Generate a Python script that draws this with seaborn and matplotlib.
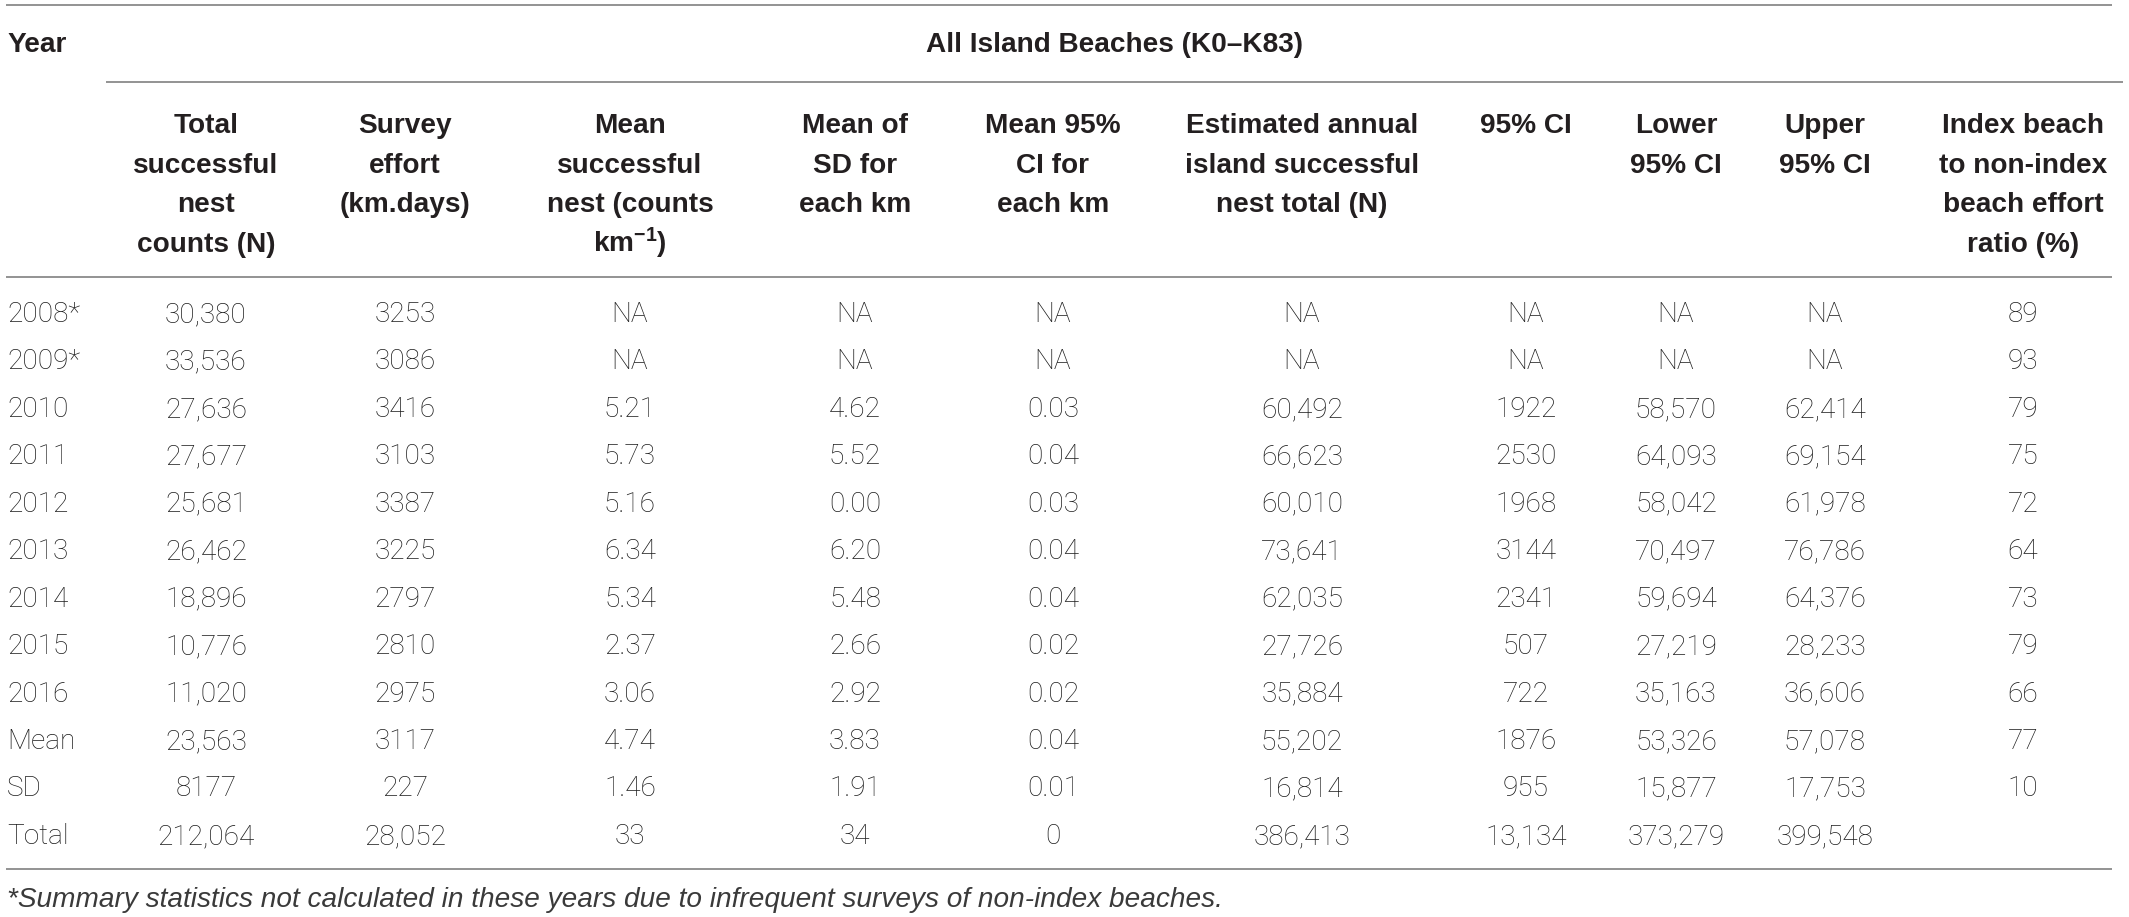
import matplotlib
matplotlib.use("Agg")
import matplotlib.pyplot as plt
import seaborn as sns
import pandas as pd

# ---------------- data ----------------
years = ["2008*", "2009*", "2010", "2011", "2012", "2013", "2014", "2015", "2016",
         "Mean", "SD", "Total"]
total_counts = ["30,380", "33,536", "27,636", "27,677", "25,681", "26,462", "18,896",
                "10,776", "11,020", "23,563", "8177", "212,064"]
survey_effort = ["3253", "3086", "3416", "3103", "3387", "3225", "2797", "2810", "2975",
                 "3117", "227", "28,052"]
mean_nest = ["NA", "NA", "5.21", "5.73", "5.16", "6.34", "5.34", "2.37", "3.06",
             "4.74", "1.46", "33"]
mean_sd = ["NA", "NA", "4.62", "5.52", "0.00", "6.20", "5.48", "2.66", "2.92",
           "3.83", "1.91", "34"]
mean_ci = ["NA", "NA", "0.03", "0.04", "0.03", "0.04", "0.04", "0.02", "0.02",
           "0.04", "0.01", "0"]
est_total = ["NA", "NA", "60,492", "66,623", "60,010", "73,641", "62,035", "27,726",
             "35,884", "55,202", "16,814", "386,413"]
ci95 = ["NA", "NA", "1922", "2530", "1968", "3144", "2341", "507", "722",
        "1876", "955", "13,134"]
lower_ci = ["NA", "NA", "58,570", "64,093", "58,042", "70,497", "59,694", "27,219",
            "35,163", "53,326", "15,877", "373,279"]
upper_ci = ["NA", "NA", "62,414", "69,154", "61,978", "76,786", "64,376", "28,233",
            "36,606", "57,078", "17,753", "399,548"]
effort_ratio = ["89", "93", "79", "75", "72", "64", "73", "79", "66", "77", "10", ""]

year_header = "Year"
group_header = "All Island Beaches (K0–K83)"
col_headers = [
    ["Total", "successful", "nest", "counts (N)"],
    ["Survey", "effort", "(km.days)"],
    ["Mean", "successful", "nest (counts", r"km$^{-1}$)"],
    ["Mean of", "SD for", "each km"],
    ["Mean 95%", "CI for", "each km"],
    ["Estimated annual", "island successful", "nest total (N)"],
    ["95% CI"],
    ["Lower", "95% CI"],
    ["Upper", "95% CI"],
    ["Index beach", "to non-index", "beach effort", "ratio (%)"],
]
footnote = ("*Summary statistics not calculated in these years due to infrequent "
            "surveys of non-index beaches.")

df = pd.DataFrame({
    "Year": years, "c1": total_counts, "c2": survey_effort, "c3": mean_nest,
    "c4": mean_sd, "c5": mean_ci, "c6": est_total, "c7": ci95, "c8": lower_ci,
    "c9": upper_ci, "c10": effort_ratio,
})

# ---------------- style ----------------
sns.set_theme(style="white")
plt.rcParams["font.family"] = ["Liberation Sans", "DejaVu Sans"]
plt.rcParams["mathtext.fontset"] = "custom"
plt.rcParams["mathtext.rm"] = "Liberation Sans:bold"
plt.rcParams["mathtext.it"] = "Liberation Sans:bold"
plt.rcParams["mathtext.bf"] = "Liberation Sans:bold"

W, H = 2129, 917
fig = plt.figure(figsize=(W / 100, H / 100), dpi=100)
ax = fig.add_axes([0, 0, 1, 1])
ax.set_xlim(0, W)
ax.set_ylim(H, 0)
ax.axis("off")
sns.despine(ax=ax, left=True, bottom=True)

FS = 20.2
HEAD_C = "#231f20"
DATA_C = "#1c1c1c"
LINE_C = "#8a8a8a"
DATA_FONT = ["Roboto", "Liberation Sans", "DejaVu Sans"]

col_x = [206, 405, 630, 855, 1053, 1302, 1526, 1676, 1825, 2023]
year_x = 7

# rules
ax.hlines(5, 6, 2112, color=LINE_C, lw=1.3)
ax.hlines(82, 106, 2123, color=LINE_C, lw=1.3)
ax.hlines(277, 6, 2112, color=LINE_C, lw=1.3)
ax.hlines(869, 6, 2112, color=LINE_C, lw=1.3)

# top header
ax.text(year_x, 52, year_header, fontsize=FS, fontweight="bold", color=HEAD_C,
        ha="left", va="baseline")
ax.text(1115, 52, group_header, fontsize=FS, fontweight="bold", color=HEAD_C,
        ha="center", va="baseline")

# column headers
for x, lines in zip(col_x, col_headers):
    for j, line in enumerate(lines):
        ax.text(x, 133 + 39.7 * j, line, fontsize=FS, fontweight="bold",
                color=HEAD_C, ha="center", va="baseline")

# body
row0, step = 322, 47.45
cols = ["c1", "c2", "c3", "c4", "c5", "c6", "c7", "c8", "c9", "c10"]
for i, row in df.iterrows():
    y = row0 + step * i
    ax.text(year_x, y, row["Year"], fontsize=FS, fontweight="light", family=DATA_FONT,
            color=DATA_C, ha="left", va="baseline")
    for x, c in zip(col_x, cols):
        ax.text(x, y, row[c], fontsize=FS, fontweight="light", family=DATA_FONT,
                color=DATA_C, ha="center", va="baseline")

# footnote
ax.text(year_x, 907, footnote, fontsize=FS, fontweight="normal", style="italic",
        family=["Liberation Sans", "DejaVu Sans"], color="#3a3a3a",
        ha="left", va="baseline")

fig.savefig("out.png", dpi=100, facecolor="white")
